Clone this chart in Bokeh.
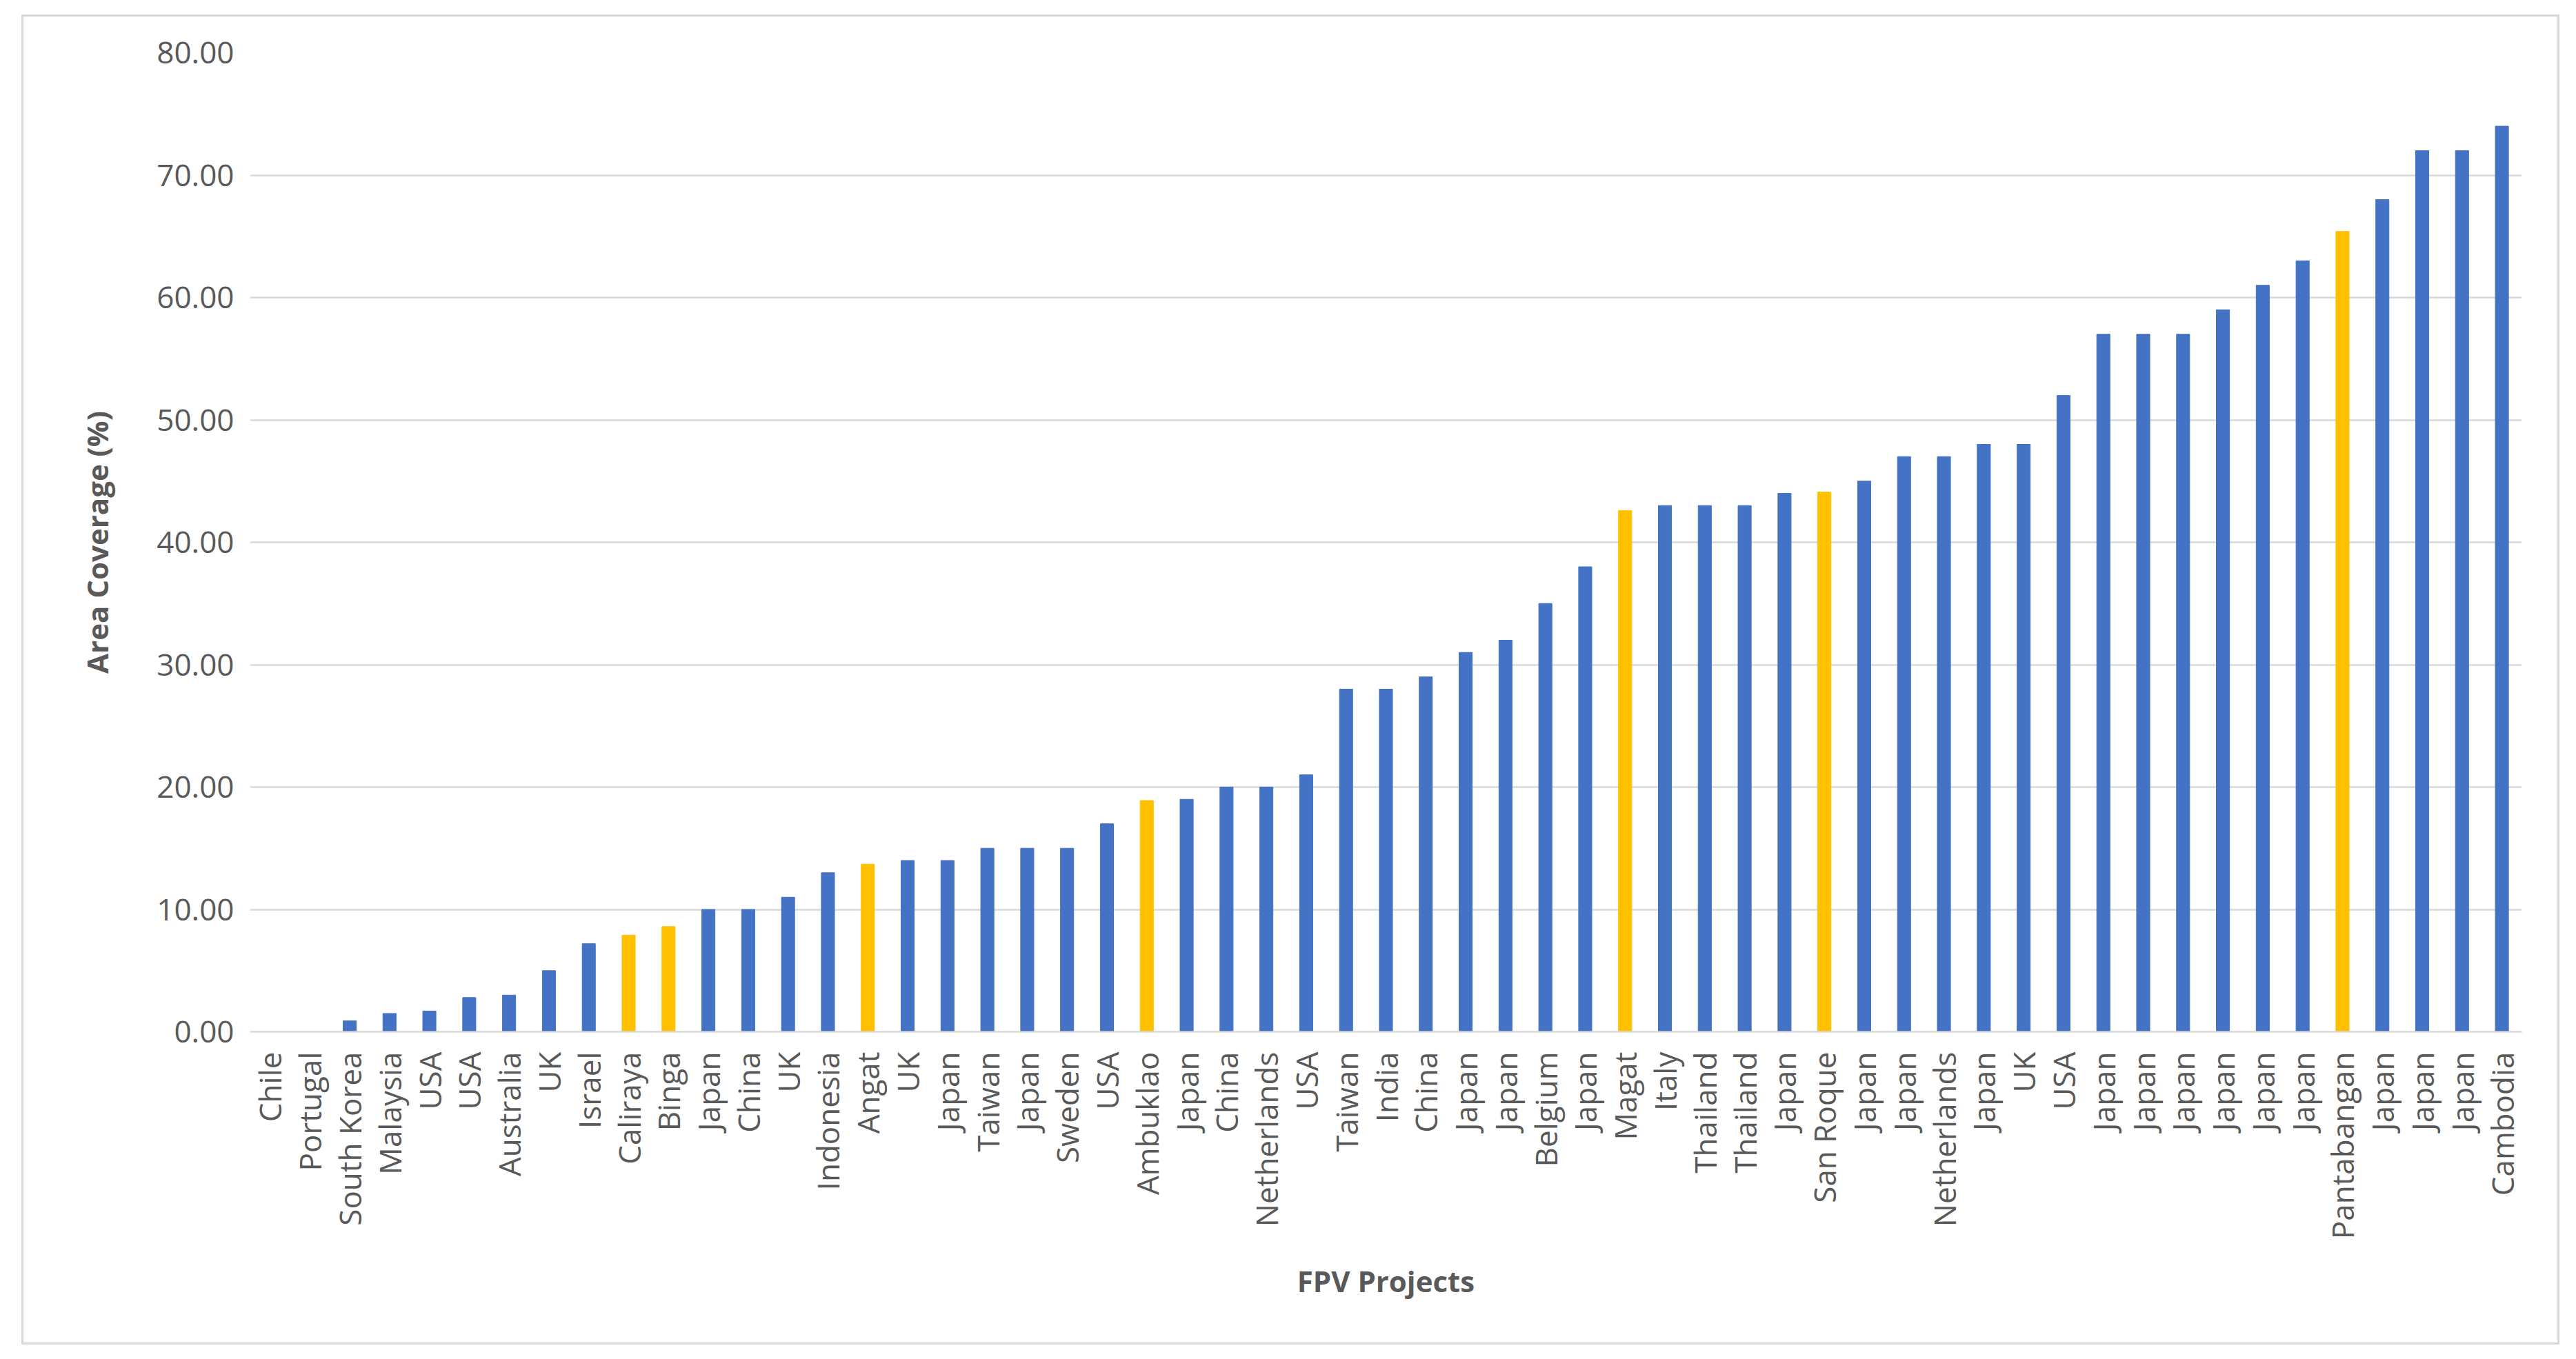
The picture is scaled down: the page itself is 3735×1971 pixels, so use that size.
import math

from bokeh.plotting import figure
from bokeh.models import ColumnDataSource, FixedTicker, NumeralTickFormatter
from bokeh.embed import file_html
from bokeh.resources import INLINE

# --- data ---
projects = [
    "Chile", "Portugal", "South Korea", "Malaysia", "USA", "USA", "Australia",
    "UK", "Israel", "Caliraya", "Binga", "Japan", "China", "UK", "Indonesia",
    "Angat", "UK", "Japan", "Taiwan", "Japan", "Sweden", "USA", "Ambuklao",
    "Japan", "China", "Netherlands", "USA", "Taiwan", "India", "China", "Japan",
    "Japan", "Belgium", "Japan", "Magat", "Italy", "Thailand", "Thailand",
    "Japan", "San Roque", "Japan", "Japan", "Netherlands", "Japan", "UK", "USA",
    "Japan", "Japan", "Japan", "Japan", "Japan", "Japan", "Pantabangan",
    "Japan", "Japan", "Japan", "Cambodia",
]
coverage = [
    0.0, 0.0, 0.9, 1.5, 1.7, 2.8, 3.0,
    5.0, 7.2, 7.9, 8.6, 10.0, 10.0, 11.0, 13.0,
    13.7, 14.0, 14.0, 15.0, 15.0, 15.0, 17.0, 18.9,
    19.0, 20.0, 20.0, 21.0, 28.0, 28.0, 29.0, 31.0,
    32.0, 35.0, 38.0, 42.6, 43.0, 43.0, 43.0,
    44.0, 44.1, 45.0, 47.0, 47.0, 48.0, 48.0, 52.0,
    57.0, 57.0, 57.0, 59.0, 61.0, 63.0, 65.4,
    68.0, 72.0, 72.0, 74.0,
]
# reservoirs highlighted in gold
highlighted = ["Caliraya", "Binga", "Angat", "Ambuklao", "Magat", "San Roque", "Pantabangan"]
y_ticks = [0, 10, 20, 30, 40, 50, 60, 70, 80]

BLUE = "#4472C4"
GOLD = "#FFC000"
TEXT = "#595959"
GRID = "#D9D9D9"
FONT = "Open Sans"

idx = list(range(len(projects)))
src = ColumnDataSource(
    dict(
        x=idx,
        top=coverage,
        color=[GOLD if n in highlighted else BLUE for n in projects],
    )
)

p = figure(
    width=3680,
    height=1929,
    x_range=(-0.5, len(projects) - 0.5),
    y_range=(0, 80),
    x_axis_label="FPV Projects",
    y_axis_label="Area Coverage (%)",
    output_backend="svg",
    toolbar_location=None,
)
p.min_border_left = 328
p.min_border_right = 58
p.min_border_top = 52
p.min_border_bottom = 457
p.outline_line_color = None
p.background_fill_color = "white"
p.border_fill_color = "white"
p.styles = {"border": "3px solid #D9D9D9", "margin-left": "31px", "margin-top": "21px"}

p.vbar(x="x", top="top", width=0.33, color="color", source=src)

# grid
p.xgrid.grid_line_color = None
p.ygrid.grid_line_color = GRID
p.ygrid.grid_line_width = 2.5

# y axis
p.yaxis.ticker = FixedTicker(ticks=y_ticks)
p.yaxis.formatter = NumeralTickFormatter(format="0.00")
p.yaxis.axis_line_color = None
p.yaxis.major_tick_line_color = None
p.yaxis.minor_tick_line_color = None
p.yaxis.major_label_standoff = 17
p.yaxis.axis_label_standoff = 55

# x axis: numeric positions, names as labels (names repeat)
p.xaxis.ticker = FixedTicker(ticks=idx)
p.xaxis.major_label_overrides = {i: n for i, n in enumerate(projects)}
p.xaxis.major_label_orientation = math.pi / 2
p.xaxis.axis_line_color = GRID
p.xaxis.axis_line_width = 2.5
p.xaxis.major_tick_line_color = None
p.xaxis.minor_tick_line_color = None
p.xaxis.major_label_standoff = 23
p.xaxis.axis_label_standoff = 29

for ax in (p.xaxis, p.yaxis):
    ax.major_label_text_font = FONT
    ax.major_label_text_font_size = "44px"
    ax.major_label_text_color = TEXT
    ax.axis_label_text_font = FONT
    ax.axis_label_text_font_size = "42px"
    ax.axis_label_text_font_style = "bold"
    ax.axis_label_text_color = TEXT

open("out.html", "w").write(file_html(p, INLINE))
